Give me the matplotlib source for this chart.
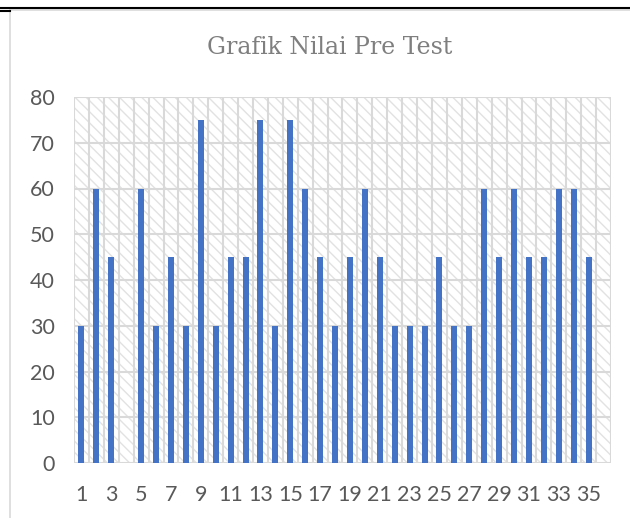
import numpy as np
import matplotlib
matplotlib.use("Agg")
import matplotlib.pyplot as plt
from matplotlib.patches import Rectangle

# student number vs pre-test score
students = list(range(1, 37))
scores = [30, 60, 45, 0, 60, 30, 45, 30, 75, 30,
          45, 45, 75, 30, 75, 60, 45, 30, 45, 60,
          45, 30, 30, 30, 45, 30, 30, 60, 45, 60,
          45, 45, 60, 60, 45, 0]
tick_labels = [str(s) if s % 2 == 1 else "" for s in students]
title = "Grafik Nilai Pre Test"

grid_col = "#d9d9d9"
text_col = "#595959"
matplotlib.rcParams["hatch.linewidth"] = 1.0

fig = plt.figure(figsize=(6.3, 5.18), dpi=100)

# page line at the top and the chart frame
fig.add_artist(plt.Line2D([0, 1], [1 - 8/518, 1 - 8/518], color="black", lw=1.5))
fig.add_artist(plt.Line2D([0, 10/630], [1 - 11/518, 1 - 11/518], color="black", lw=1.5))
fig.add_artist(Rectangle((10/630, -0.01), 1, 1 - 10/518 + 0.01, fill=False,
                         edgecolor=grid_col, lw=1.2, transform=fig.transFigure))

ax = fig.add_axes([74/630, 1 - 463/518, (611 - 74)/630, (463 - 97)/518])

n = len(students)
x = np.arange(n)
ax.set_xlim(-0.5, n - 0.5)
ax.set_ylim(0, 80)

# hatched background of the plot area
ax.add_patch(Rectangle((-0.5, 0), n, 80, facecolor="white", edgecolor="#e2e2e2",
                       hatch="\\\\\\", lw=0, zorder=0))

for y in range(0, 81, 10):
    ax.axhline(y, color=grid_col, lw=1.5, zorder=1)
for b in np.arange(-0.5, n, 1.0):
    ax.axvline(b, color=grid_col, lw=1.5, zorder=1)

ax.bar(x, scores, width=0.4, color="#4472C4", zorder=2)

ax.set_xticks(x)
ax.set_xticklabels(tick_labels)
ax.set_yticks(range(0, 81, 10))
ax.tick_params(length=0, labelsize=15.5, colors=text_col)
ax.tick_params(axis="x", pad=16)
ax.tick_params(axis="y", pad=14)
for s in ax.spines.values():
    s.set_visible(False)
for lab in ax.get_xticklabels() + ax.get_yticklabels():
    lab.set_family(["Lato", "DejaVu Sans"])

fig.text(330/630, 1 - 48/518, title, ha="center", va="center",
         fontsize=17, color="#7f7f7f", family=["DejaVu Serif"])

fig.savefig("out.png", dpi=100)
